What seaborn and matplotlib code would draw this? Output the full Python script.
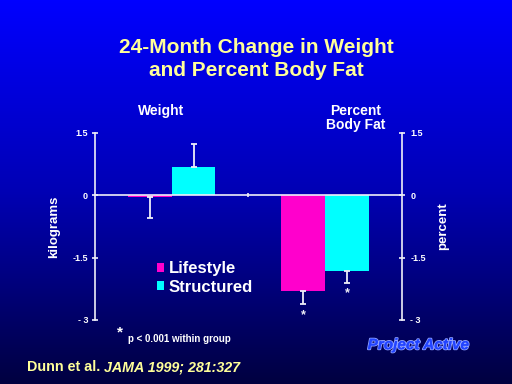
import matplotlib
matplotlib.use("Agg")
import matplotlib.pyplot as plt
import matplotlib.patheffects as pe
from matplotlib.colors import LinearSegmentedColormap
import seaborn as sns
import numpy as np
import pandas as pd

# values
measures = ["Weight", "Percent Body Fat"]
groups = ["Lifestyle", "Structured"]
lifestyle_change = [-0.05, -2.31]
structured_change = [0.69, -1.81]
lifestyle_err = [0.50, 0.31]
structured_err = [0.55, 0.29]
significant = {"Lifestyle": [False, True], "Structured": [False, True]}
y_ticks = [1.5, 0, -1.5, -3]
y_ticklabels = ["1.5", "0", "-1.5", "- 3"]

colors = {"Lifestyle": "#FF00CC", "Structured": "#00FFFF"}
light = "#EEEEF8"
yellow = "#FFFF99"

df = pd.DataFrame({
    "measure": measures * 2,
    "group": [groups[0]] * 2 + [groups[1]] * 2,
    "change": lifestyle_change + structured_change,
})
errors = {"Lifestyle": lifestyle_err, "Structured": structured_err}

sns.set_style("white")
plt.rcParams["font.family"] = ["Liberation Sans", "DejaVu Sans"]
plt.rcParams["font.weight"] = "bold"
plt.rcParams["axes.labelweight"] = "bold"

fig = plt.figure(figsize=(5.12, 3.84), dpi=100)

# slide background gradient
bg = fig.add_axes([0, 0, 1, 1], zorder=-10)
cmap = LinearSegmentedColormap.from_list("slide", ["#0000FF", "#0000B4", "#000040"])
bg.imshow(np.linspace(0, 1, 256).reshape(-1, 1), aspect="auto", cmap=cmap,
          extent=[0, 1, 0, 1])
bg.set_axis_off()

ax = fig.add_axes([0.1855, 0.1667, 0.5995, 0.487])
ax.set_facecolor("none")
sns.barplot(data=df, x="measure", y="change", hue="group", hue_order=groups,
            palette=colors, width=0.57, gap=0, legend=False, ax=ax,
            saturation=1, linewidth=0)

for cont, g in zip(ax.containers, groups):
    for bar, err, val, sig in zip(cont, errors[g], df[df.group == g].change,
                                  significant[g]):
        xc = bar.get_x() + bar.get_width() / 2
        if val >= 0:
            yerr = [[0], [err]]
        else:
            yerr = [[err], [0]]
        ax.errorbar(xc, val, yerr=yerr, color=light, lw=1.3, capsize=2.5,
                    capthick=1.3, zorder=3)
        if sig:
            ax.text(xc, val - err - 0.12, "*", color=light, ha="center",
                    va="top", fontsize=9)

ax.set_xlim(-0.5, 1.5)
ax.set_ylim(-3, 1.5)
ax.set_yticks(y_ticks, y_ticklabels)
ax.set_xticks([0.5], [""])
ax.set_xlabel("")
ax.set_ylabel("kilograms", color="white", fontsize=9.5, labelpad=9)
for s in ["top", "right"]:
    ax.spines[s].set_visible(False)
ax.spines["bottom"].set_position(("data", 0))
for s in ["left", "bottom"]:
    ax.spines[s].set_color(light)
    ax.spines[s].set_linewidth(1.2)
    ax.spines[s].set_zorder(1)
ax.tick_params(axis="y", colors=light, labelcolor="white", labelsize=6.5,
               direction="inout", length=4, width=1.2, pad=3, left=True)
ax.tick_params(axis="x", colors=light, direction="inout", length=3, width=1.2,
               bottom=True)

ax2 = ax.twinx()
ax2.set_ylim(-3, 1.5)
ax2.set_yticks(y_ticks, y_ticklabels)
for s in ["top", "left", "bottom"]:
    ax2.spines[s].set_visible(False)
ax2.spines["right"].set_color(light)
ax2.spines["right"].set_linewidth(1.2)
ax2.tick_params(axis="y", colors=light, labelcolor="white", labelsize=6.5,
                direction="inout", length=4, width=1.2, pad=4, right=True)
ax2.set_ylabel("percent", color="white", fontsize=9.5, labelpad=8)
for a in (ax, ax2):
    for t in a.get_yticklabels():
        t.set_fontweight("bold")

# group labels above the plot
tr = ax.get_xaxis_transform()
ax.text(-0.07, 1.12, "Weight", transform=tr, color="white", ha="center",
        va="center", fontsize=10)
ax.text(1.2, 1.08, "Percent\nBody Fat", transform=tr, color="white",
        ha="center", va="center", fontsize=10, linespacing=1.0)

leg = ax.legend(ax.containers, groups, loc="upper left",
                bbox_to_anchor=(0.18, 0.35), frameon=False, fontsize=12,
                handlelength=0.45, handleheight=0.45, handletextpad=0.25,
                labelspacing=0.22, borderaxespad=0)
for t in leg.get_texts():
    t.set_color("white")

fig.text(0.5, 0.846, "24-Month Change in Weight\nand Percent Body Fat",
         ha="center", va="center", color=yellow, fontsize=15,
         linespacing=1.3)
fig.text(0.234, 0.133, "*", color="white", fontsize=11, ha="center",
         va="center")
fig.text(0.25, 0.118, "p < 0.001 within group", color="white", fontsize=7,
         ha="left", va="center")
t1 = fig.text(0.053, 0.044, "Dunn et al.", color=yellow, fontsize=10.3,
              ha="left", va="center")
fig.canvas.draw()
x1 = fig.transFigure.inverted().transform(
    t1.get_window_extent(fig.canvas.get_renderer()))[1, 0]
fig.text(x1 + 0.008, 0.044, "JAMA 1999; 281:327", color=yellow, fontsize=10.3,
         style="italic", ha="left", va="center")
fig.text(0.817, 0.101, "Project Active", color="#2244FF", fontsize=11,
         style="italic", ha="center", va="center",
         path_effects=[pe.withStroke(linewidth=1.4, foreground="#8FA0FF"),
                       pe.Normal()])

fig.savefig("out.png", dpi=100)
